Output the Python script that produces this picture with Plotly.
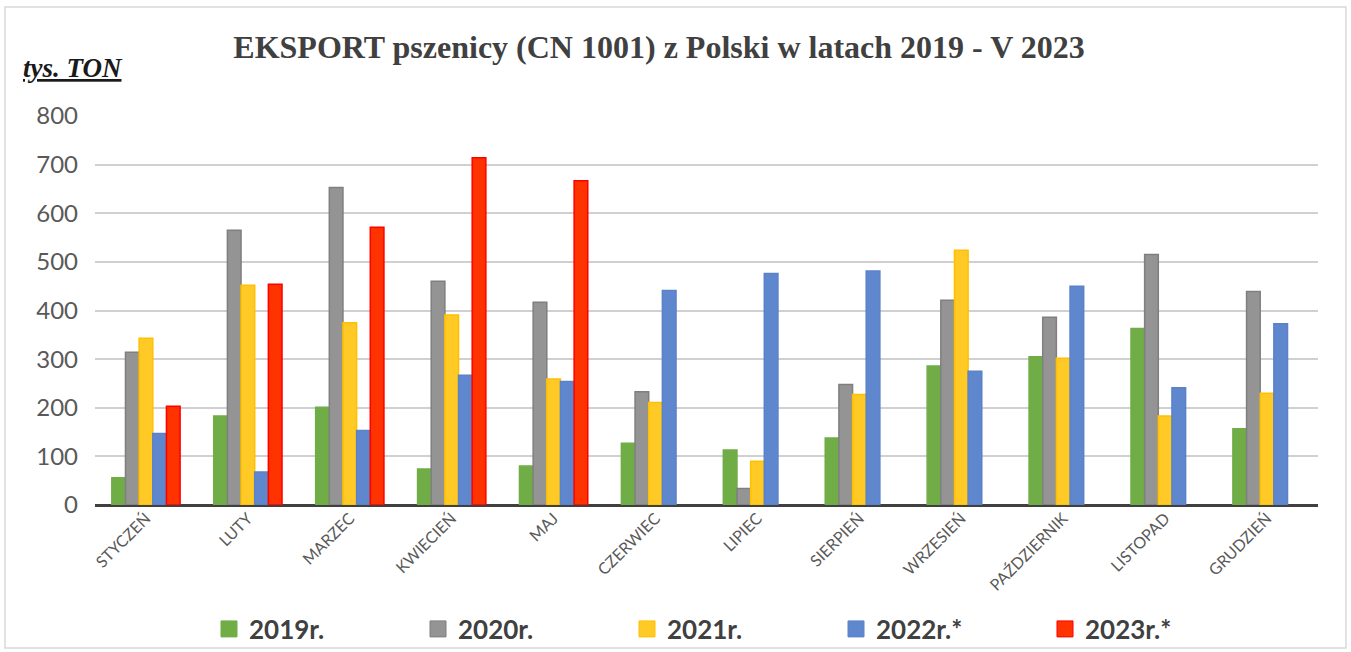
import plotly.graph_objects as go

months = ["STYCZEŃ", "LUTY", "MARZEC", "KWIECIEŃ", "MAJ", "CZERWIEC", "LIPIEC",
          "SIERPIEŃ", "WRZESIEŃ", "PAŹDZIERNIK", "LISTOPAD", "GRUDZIEŃ"]

y2019 = [56, 183, 201, 74, 80, 127, 113, 138, 286, 305, 363, 157]
y2020 = [314, 565, 653, 460, 417, 233, 34, 248, 421, 386, 515, 439]
y2021 = [343, 452, 375, 391, 259, 211, 90, 227, 524, 302, 183, 230]
y2022 = [147, 68, 153, 267, 254, 441, 476, 481, 275, 450, 241, 373]
y2023 = [203, 454, 571, 714, 667, None, None, None, None, None, None, None]

series_names = ["2019r.", "2020r.", "2021r.", "2022r.*", "2023r.*"]
fills = ["#70AD47", "#949494", "#FFC926", "#5F87CD", "#FF3300"]
lines = ["#70AD47", "#7F7F7F", "#FFC000", "#5B82C8", "#FF0000"]

W, H = 1351, 652
L, R, T, B = 95, 33, 116, 147

fig = go.Figure()
for name, vals, fc, lc in zip(series_names, [y2019, y2020, y2021, y2022, y2023], fills, lines):
    fig.add_trace(go.Bar(x=months, y=vals, name=name, showlegend=False,
                         marker=dict(color=fc, line=dict(color=lc, width=1.5))))
# legend entries with larger square swatches
for name, fc, lc in zip(series_names, fills, lines):
    fig.add_trace(go.Scatter(x=[None], y=[None], name=name, mode="markers",
                             marker=dict(symbol="square", size=16, color=fc,
                                         line=dict(color=lc, width=1))))

def px_x(v):
    return (v - L) / (W - L - R)

def px_y(v):
    return (H - B - v) / (H - T - B)

fig.update_layout(
    width=W, height=H,
    margin=dict(l=L, r=R, t=T, b=B, autoexpand=False),
    paper_bgcolor="white", plot_bgcolor="white",
    barmode="group", bargap=0.33, bargroupgap=0,
    title=dict(text="<b>EKSPORT pszenicy (CN 1001) z Polski w latach 2019 - V 2023</b>",
               x=px_x(659), xanchor="center", xref="paper", y=1 - 47 / H, yanchor="middle",
               font=dict(family="Liberation Serif", size=32, color="#404040")),
    font=dict(family="Lato", color="#595959"),
    xaxis=dict(tickangle=-45, tickfont=dict(size=16, color="#595959"),
               showline=False, ticks="", showgrid=False),
    yaxis=dict(range=[0, 800], dtick=100, showgrid=True, gridcolor="#D0D0D0", gridwidth=2,
               tickfont=dict(size=24, color="#595959"), zeroline=True,
               zerolinecolor="#404040", zerolinewidth=3, ticklabelstandoff=16),
    legend=dict(orientation="h", x=px_x(209), y=px_y(629), xanchor="left", yanchor="middle",
                entrywidth=164, entrywidthmode="pixels", traceorder="normal",
                itemsizing="trace", bgcolor="rgba(0,0,0,0)",
                font=dict(family="Lato", size=26, color="#404040", weight="bold")),
    annotations=[dict(text="<b><i><u>tys. TON</u></i></b>", xref="paper", yref="paper",
                      x=px_x(21), y=px_y(68), xanchor="left", yanchor="middle",
                      showarrow=False,
                      font=dict(family="Liberation Serif", size=27, color="#1a1a1a"))],
    shapes=[dict(type="rect", xref="paper", yref="paper",
                 x0=px_x(5), x1=px_x(1346), y0=px_y(648), y1=px_y(7),
                 line=dict(color="#D9D9D9", width=1.5))],
)

fig.write_html("out.html", config={"displayModeBar": False},
               post_script="document.body.style.margin='0';document.body.style.overflow='hidden';")
